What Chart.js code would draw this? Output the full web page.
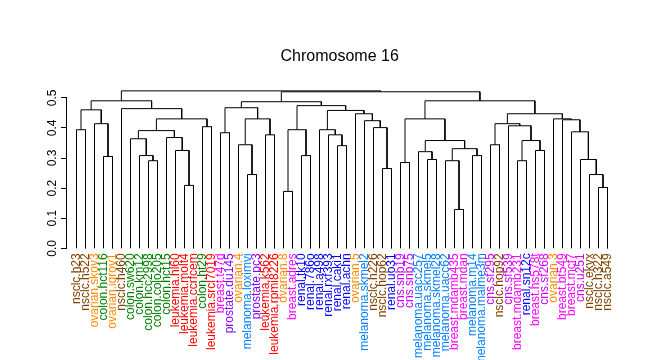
<!DOCTYPE html>
<html>
<head>
<meta charset="utf-8">
<script src="https://cdn.jsdelivr.net/npm/chart.js@4.4.0/dist/chart.umd.min.js"></script>
<style>
  html, body { margin: 0; padding: 0; background: #fff; }
  #wrap { width: 647px; height: 360px; }
</style>
</head>
<body>
<div id="wrap"><canvas id="dendro" width="647" height="360"></canvas></div>
<script>
// leaves in plotted order, left to right
const leafNames = [
  'nsclc.h23', 'nsclc.h522', 'ovarian.skov3', 'colon.hct116', 'ovarian.igrov1',
  'nsclc.h460', 'colon.sw620', 'colon.km12', 'colon.hcc2998', 'colon.colo205',
  'colon.hct15', 'leukemia.hl60', 'leukemia.molt4', 'leukemia.ccrfcem', 'colon.ht29',
  'leukemia.srcl7019', 'breast.t47d', 'prostate.du145', 'ovarian.4', 'melanoma.loximvi',
  'prostate.pc3', 'leukemia.k562', 'leukemia.rpmi8226', 'ovarian.8', 'breast.adres',
  'renal.tk10', 'renal.786o', 'renal.a498', 'renal.rxf393', 'renal.caki1',
  'renal.achn', 'ovarian.5', 'melanoma.skmel2', 'nsclc.h226', 'nsclc.hop62',
  'renal.uo31', 'cns.snb19', 'cns.snb75', 'melanoma.uacc257', 'melanoma.skmel5',
  'melanoma.skmel28', 'melanoma.uacc62', 'breast.mdamb435', 'breast.mdan', 'melanoma.m14',
  'melanoma.malme3m', 'cns.sf295', 'nsclc.hop92', 'cns.sf539', 'breast.mdamb231',
  'renal.sn12c', 'breast.hs578t', 'cns.sf268', 'ovarian.3', 'breast.bt549',
  'breast.mcf7', 'cns.u251', 'nsclc.ekvx', 'nsclc.h322', 'nsclc.a549'
];

// merges like hclust: negative = leaf number, positive = earlier merge
const mergeLeft = [
  -1, -4, -3, 1, -9, -8, -7, -13, -12, -11,
  7, -15, 11, -6, 4, -17, -20, -19, -22, 18,
  16, -24, -26, 22, -30, -29, -28, -35, -34, -33,
  -32, 27, 24, 21, -37, -40, -39, -43, -42, -45,
  39, 37, 35, -47, -50, -52, 45, -49, 44, -59,
  -58, -57, -56, -55, -54, 49, 43, 34, 15
];
const mergeRight = [
  -2, -5, 2, 3, -10, 5, 6, -14, 8, 9,
  10, -16, 12, 13, 14, -18, -21, 17, -23, 19,
  20, -25, -27, 23, -31, 25, 26, -36, 28, 29,
  30, 31, 32, 33, -38, -41, 36, -44, 38, -46,
  40, 41, 42, -48, -51, -53, 46, 47, 48, -60,
  50, 51, 52, 53, 54, 55, 56, 57, 58
];
const mergeHeight = [
  0.394, 0.305, 0.414, 0.460, 0.291, 0.308, 0.364, 0.209, 0.325, 0.368,
  0.391, 0.404, 0.430, 0.464, 0.490, 0.384, 0.245, 0.344, 0.377, 0.430,
  0.467, 0.189, 0.308, 0.394, 0.341, 0.377, 0.394, 0.265, 0.401, 0.424,
  0.447, 0.458, 0.474, 0.487, 0.285, 0.295, 0.321, 0.129, 0.291, 0.308,
  0.331, 0.358, 0.430, 0.344, 0.291, 0.325, 0.358, 0.407, 0.414, 0.202,
  0.245, 0.295, 0.387, 0.427, 0.430, 0.447, 0.490, 0.520, 0.523
];

const yTicks = [0, 0.1, 0.2, 0.3, 0.4, 0.5];

const tissueColor = {
  nsclc: '#804000',
  ovarian: '#FF8C00',
  colon: '#008000',
  leukemia: '#FF0000',
  breast: '#FF00FF',
  prostate: '#8800FF',
  melanoma: '#0080FF',
  renal: '#0000FF',
  cns: '#CC00FF'
};
const leafColor = leafNames.map(n => tissueColor[n.split('.')[0]]);

// build the U shaped links
const centers = [];
const segments = [];
function nodeOf(ref) {
  if (ref < 0) return { x: -ref, y: 0 };
  return { x: centers[ref - 1], y: mergeHeight[ref - 1] };
}
for (let k = 0; k < mergeHeight.length; k++) {
  const a = nodeOf(mergeLeft[k]);
  const b = nodeOf(mergeRight[k]);
  const h = mergeHeight[k];
  centers.push((a.x + b.x) / 2);
  segments.push({ x: a.x, y: a.y }, { x: a.x, y: h }, { x: b.x, y: h }, { x: b.x, y: b.y });
  segments.push({ x: b.x, y: null });
}

const FONT = '"Liberation Sans", Arial, Helvetica, sans-serif';
Chart.defaults.font.family = FONT;

const xMin = 1 - 10.5 / 9;
const xMax = xMin + 547.4 / 9;

// R style axis labels, rotated along the axis
const yLabels = {
  id: 'yLabels',
  afterDraw(chart) {
    const ctx = chart.ctx;
    const ys = chart.scales.y;
    ctx.save();
    ctx.font = '12px ' + FONT;
    ctx.fillStyle = '#000';
    ctx.textAlign = 'center';
    ctx.textBaseline = 'middle';
    yTicks.forEach(v => {
      ctx.save();
      ctx.translate(52.7, ys.getPixelForValue(v));
      ctx.rotate(-Math.PI / 2);
      ctx.fillText(v.toFixed(1), 0, 0);
      ctx.restore();
    });
    ctx.restore();
  }
};

new Chart(document.getElementById('dendro').getContext('2d'), {
  type: 'line',
  data: {
    datasets: [{
      data: segments,
      borderColor: '#000',
      borderWidth: 1,
      pointRadius: 0,
      tension: 0,
      spanGaps: false,
      clip: false
    }]
  },
  options: {
    responsive: false,
    animation: false,
    devicePixelRatio: 1,
    layout: { padding: { left: 0, right: 33.6, top: 0, bottom: 0 } },
    plugins: {
      legend: { display: false },
      tooltip: { enabled: false },
      title: {
        display: true,
        text: 'Chromosome 16',
        fullSize: false,
        color: '#000',
        font: { size: 16, weight: 'normal' },
        padding: { top: 46.6, bottom: 32 }
      }
    },
    scales: {
      x: {
        type: 'linear',
        min: xMin,
        max: xMax,
        afterBuildTicks: s => { s.ticks = leafNames.map((n, i) => ({ value: i + 1 })); },
        afterFit: s => { s.height = 111.7; },
        border: { display: false },
        grid: { display: false },
        ticks: {
          autoSkip: false,
          minRotation: 90,
          maxRotation: 90,
          padding: -3,
          font: { size: 12 },
          color: ctx => leafColor[ctx.index],
          callback: (v, i) => leafNames[i]
        }
      },
      y: {
        min: 0,
        max: 0.5,
        afterFit: s => { s.width = 66; },
        border: { display: true, color: '#000', width: 1 },
        grid: { drawOnChartArea: false, drawTicks: true, tickLength: 5, color: '#000' },
        ticks: { display: false, stepSize: 0.1 }
      }
    }
  },
  plugins: [yLabels]
});
</script>
</body>
</html>
